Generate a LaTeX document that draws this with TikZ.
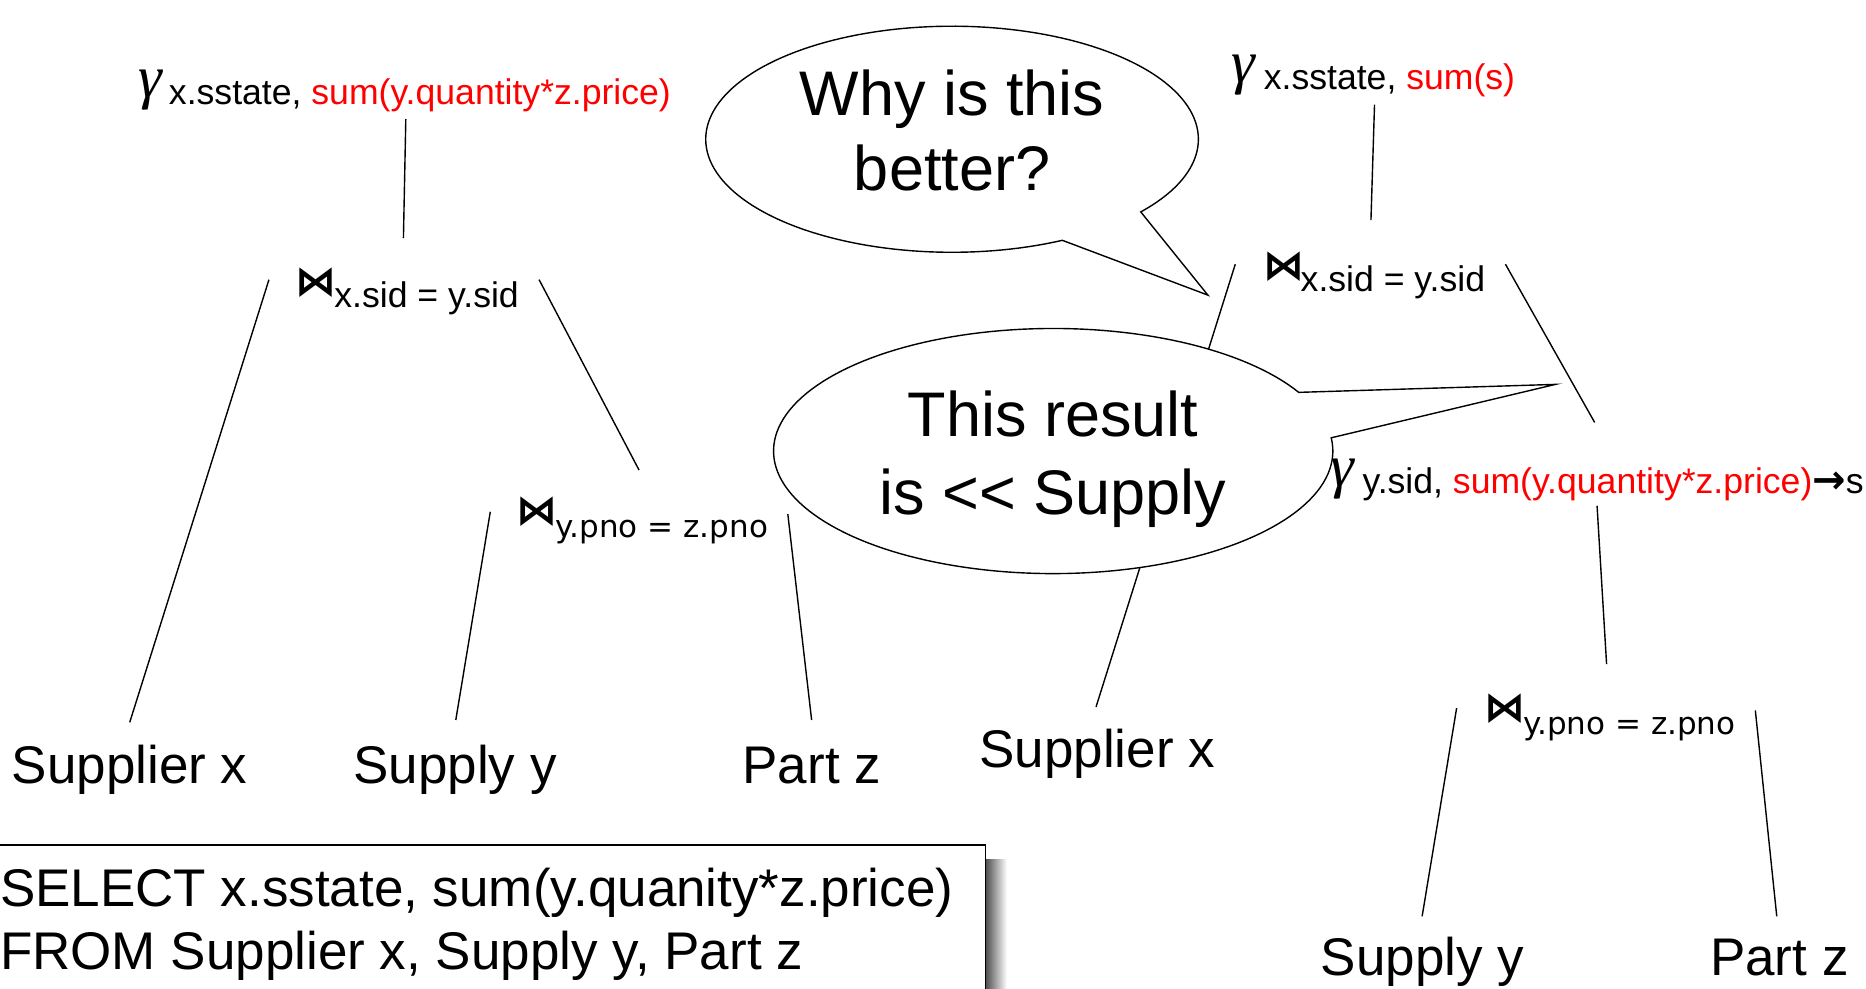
\documentclass[tikz,border=0pt]{standalone}
\usepackage{fontspec}
\setmainfont{Liberation Sans}
\newfontfamily\dvfont{DejaVu Sans}
\newfontfamily\serifgr{Liberation Serif}
\newcommand\fsz[2]{\fontsize{#1}{#2}\selectfont}
\newcommand\gam{{\fsz{60}{60}\serifgr\itshape γ}}
\newcommand\bowt{{\fsz{41}{41}\dvfont\bfseries ⋈}}
\newcommand\rarr{{\fsz{40}{40}\dvfont\bfseries →}}
\definecolor{redtxt}{RGB}{255,0,0}
\begin{document}
\begin{tikzpicture}[x=1.19pt,y=-1.19pt,
  ln/.style={line width=1.4pt},
  lbl/.style={inner sep=0pt, outer sep=0pt, anchor=base west},
  sub/.style={lbl, font=\fsz{35.6}{35.6}},
  subdv/.style={lbl, font=\fsz{31}{31}\dvfont},
  rel/.style={lbl, font=\fsz{53}{53}},
  bubtxt/.style={inner sep=0pt, anchor=base, font=\fsz{63}{63}},
  bubble/.style={line width=1.4pt, fill=white}]
\useasboundingbox (0,0) rectangle (1568,831);

% ---------- left tree ----------
\node[lbl] (g1) at (116,82) {\gam};
\node[sub] (g1s) at (142,88) {x.sstate, \textcolor{redtxt}{sum(y.quantity*z.price)}};
\node[lbl] (j1) at (248,248) {\bowt};
\node[sub] (j1s) at (281,258) {x.sid = y.sid};
\node[lbl] (j2) at (434,441) {\bowt};
\node[subdv] (j2s) at (467,452) {y.pno = z.pno};
\node[rel] (sx1) at (10,658) {Supplier x};
\node[rel] (sy1) at (297,658) {Supply y};
\node[rel] (pz1) at (624,658) {Part z};

\coordinate (a1) at (341,100); \coordinate (a2) at (339,200);
\coordinate (b1) at (226,235); \coordinate (b2) at (109,607);
\coordinate (c1) at (453,235); \coordinate (c2) at (537,395);
\coordinate (d1) at (412,430); \coordinate (d2) at (383,605);
\coordinate (e1) at (662,432); \coordinate (e2) at (682,605);
\draw[ln] (a1) -- (a2);
\draw[ln] (b1) -- (b2);
\draw[ln] (c1) -- (c2);
\draw[ln] (d1) -- (d2);
\draw[ln] (e1) -- (e2);

% ---------- right tree ----------
\node[lbl] (g2) at (1035,69) {\gam};
\node[sub] (g2s) at (1062,75) {x.sstate, \textcolor{redtxt}{sum(s)}};
\node[lbl] (j3) at (1062,235) {\bowt};
\node[sub] (j3s) at (1093,245) {x.sid = y.sid};
\node[lbl] (g3) at (1118,409) {\gam};
\node[sub] (g3s) at (1145,415) {y.sid, \textcolor{redtxt}{sum(y.quantity*z.price)}\rarr s};
\node[lbl] (j4) at (1247,606) {\bowt};
\node[subdv] (j4s) at (1280,617) {y.pno = z.pno};
\node[rel] (sx2) at (823,645) {Supplier x};
\node[rel] (sy2) at (1110,820) {Supply y};
\node[rel] (pz2) at (1437,820) {Part z};

\coordinate (f1) at (1155,88); \coordinate (f2) at (1152,185);
\coordinate (h1) at (1038,222); \coordinate (h2) at (921,594);
\coordinate (k1) at (1265,222); \coordinate (k2) at (1340,355);
\coordinate (m1) at (1342,425); \coordinate (m2) at (1350,558);
\coordinate (n1) at (1224,595); \coordinate (n2) at (1195,770);
\coordinate (p1) at (1475,597); \coordinate (p2) at (1493,770);
\draw[ln] (f1) -- (f2);
\draw[ln] (h1) -- (h2);
\draw[ln] (k1) -- (k2);
\draw[ln] (m1) -- (m2);
\draw[ln] (n1) -- (n2);
\draw[ln] (p1) -- (p2);

% ---------- speech bubbles ----------
\coordinate (tip1) at (1015,248);
\draw[bubble] plot[domain=63.4:400, samples=160] ({800+207*cos(\x)},{117+95*sin(\x)}) -- (tip1) -- cycle;
\node[bubtxt] (w1) at (800,97) {Why is this};
\node[bubtxt] (w2) at (800,160) {better?};

\coordinate (tip2) at (1307,323);
\draw[bubble] plot[domain=-6.2:331.4, samples=160] ({885+235*cos(\x)},{379+103*sin(\x)}) -- (tip2) -- cycle;
\node[bubtxt] (t1) at (885,367) {This result};
\node[bubtxt] (t2) at (885,432) {is <\kern0pt< Supply};

% ---------- SQL box ----------
\shade[left color=black!70, right color=white] (828,722) rectangle (846,840);
\draw[line width=1.4pt, fill=white] (-5,710) rectangle (828,840);
\node[rel] (q1) at (0,762) {SELECT x.sstate, sum(y.quanity*z.price)};
\node[rel] (q2) at (0,815) {FROM Supplier x, Supply y, Part z};
\end{tikzpicture}
\end{document}
